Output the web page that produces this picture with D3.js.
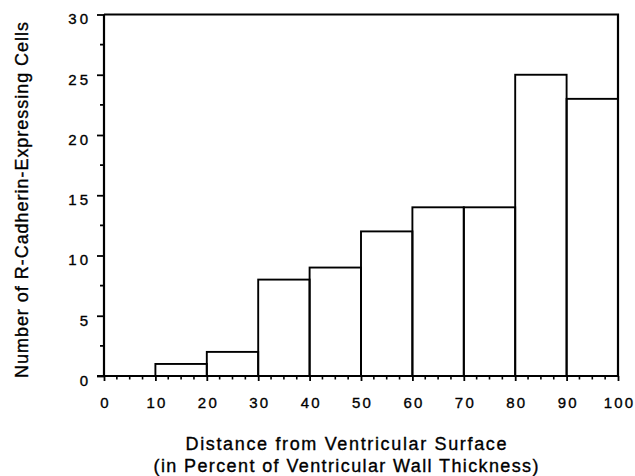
<!DOCTYPE html>
<html>
<head>
<meta charset="utf-8">
<script src="https://cdn.jsdelivr.net/npm/d3@7"></script>
<style>
  body { margin: 0; background: #fff; }
  text { font-family: "Liberation Sans", Arial, sans-serif; fill: #000; stroke: #000; stroke-width: 0.35px; }
</style>
</head>
<body>
<script>
// histogram bins (percent of wall thickness) and counts
const binStarts = [0, 10, 20, 30, 40, 50, 60, 70, 80, 90];
const binWidth = 10;
const counts = [0, 1, 2, 8, 9, 12, 14, 14, 25, 23];

const xTicks = [0, 10, 20, 30, 40, 50, 60, 70, 80, 90, 100];
const yTicks = [0, 5, 10, 15, 20, 25, 30];

const xTitle = ["Distance from Ventricular Surface", "(in Percent of Ventricular Wall Thickness)"];
const yTitle = "Number of R-Cadherin-Expressing Cells";

const W = 635, H = 476;
const margin = {top: 14.5, right: 17, bottom: 100, left: 104};

const svg = d3.select("body").append("svg")
  .attr("width", W).attr("height", H);

const x = d3.scaleLinear().domain([0, 100]).range([margin.left, W - margin.right]);
const y = d3.scaleLinear().domain([0, 30]).range([H - margin.bottom, margin.top]);

// bars
svg.append("g").selectAll("rect")
  .data(binStarts.map((s, i) => ({s, v: counts[i]})))
  .join("rect")
  .attr("x", d => x(d.s))
  .attr("y", d => y(d.v))
  .attr("width", d => x(d.s + binWidth) - x(d.s))
  .attr("height", d => y(0) - y(d.v))
  .attr("fill", "none")
  .attr("stroke", "#000")
  .attr("stroke-width", 1.9);

// frame top + right
svg.append("path")
  .attr("d", `M${x(0)},${y(30)}H${x(100)}V${y(0)}`)
  .attr("fill", "none").attr("stroke", "#000").attr("stroke-width", 2.2);

// minor ticks
const yMinor = d3.range(2.5, 30, 5);
const xMinor = d3.range(0, 100, 2.5).filter(v => v % 10 !== 0);

const yAxis = svg.append("g").attr("transform", `translate(${x(0)},0)`);
yAxis.call(d3.axisLeft(y).tickValues(yTicks).tickSize(7).tickPadding(6).tickFormat(d3.format("d")));
yAxis.selectAll("line").attr("stroke-width", 1.8);
yAxis.select(".domain").attr("stroke-width", 2.2).attr("d", `M0,${y(0)}V${y(30)}`);
yAxis.selectAll("text")
  .style("font-size", "15px").style("letter-spacing", "3px")
  .attr("dy", "0.62em").attr("dx", 0);
yAxis.selectAll(".minor").data(yMinor).join("line")
  .attr("class", "minor")
  .attr("x1", -4).attr("x2", 0)
  .attr("y1", d => y(d)).attr("y2", d => y(d))
  .attr("stroke", "#000").attr("stroke-width", 1.8);

const xAxis = svg.append("g").attr("transform", `translate(0,${y(0)})`);
xAxis.call(d3.axisBottom(x).tickValues(xTicks).tickSize(5).tickPadding(16).tickFormat(d3.format("d")));
xAxis.selectAll("line").attr("stroke-width", 1.8);
xAxis.select(".domain").attr("stroke-width", 2.2).attr("d", `M${x(0) - 7},0H${x(100)}`);
xAxis.selectAll("text")
  .style("font-size", "15px").style("letter-spacing", "2.2px")
  .attr("dx", 1.1);
xAxis.selectAll(".minor").data(xMinor).join("line")
  .attr("class", "minor")
  .attr("x1", d => x(d)).attr("x2", d => x(d))
  .attr("y1", 0).attr("y2", 3.5)
  .attr("stroke", "#000").attr("stroke-width", 1.6);

// axis titles
svg.append("g").selectAll("text")
  .data(xTitle)
  .join("text")
  .attr("x", 346)
  .attr("y", (d, i) => 450 + i * 21.7)
  .attr("text-anchor", "middle")
  .attr("textLength", (d, i) => i === 0 ? 321 : 385)
  .attr("lengthAdjust", "spacing")
  .style("font-size", "18px")
  .text(d => d);

svg.append("text")
  .attr("transform", `translate(28,200) rotate(-90)`)
  .attr("text-anchor", "middle")
  .attr("textLength", 356)
  .attr("lengthAdjust", "spacing")
  .style("font-size", "18px")
  .text(yTitle);
</script>
</body>
</html>
